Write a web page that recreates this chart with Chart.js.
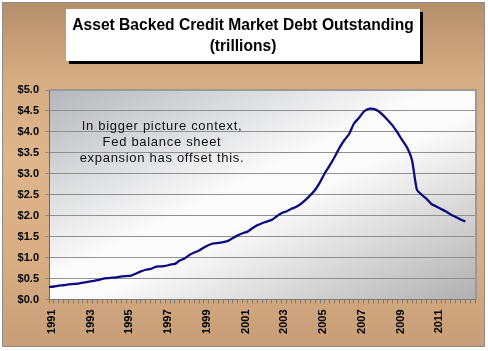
<!DOCTYPE html>
<html>
<head>
<meta charset="utf-8">
<script src="https://cdn.jsdelivr.net/npm/chart.js@4"></script>
<style>
  html, body { margin: 0; padding: 0; background: #ffffff; }
  #wrap { position: relative; width: 488px; height: 351px; overflow: hidden; }
  #frame {
    position: absolute; left: 2px; top: 2px; width: 481px; height: 343px;
    border: 1px solid #8c8c8c;
    background: linear-gradient(to bottom, #b58f6c 0%, #d6ac82 22%, #dfb58b 45%, #d8ad83 75%, #c79e78 100%);
  }
  #chart { position: absolute; left: 0; top: 0; }
  #title {
    position: absolute; left: 66px; top: 9px; width: 354px; height: 52px;
    background: #ffffff; box-shadow: 3px 3px 0 #000000;
    font-family: "Liberation Sans", Arial, sans-serif; font-weight: bold; font-size: 15.6px;
    line-height: 21px; text-align: center; color: #000; box-sizing: border-box; padding-top: 5px;
  }
  #note {
    position: absolute; left: 52px; top: 118px; width: 220px;
    font-family: "Liberation Sans", Arial, sans-serif; font-size: 13px; letter-spacing: 0.7px;
    line-height: 16px; text-align: center; color: #111;
  }
</style>
</head>
<body>
<div id="wrap">
  <div id="frame"></div>
  <canvas id="chart" width="488" height="351"></canvas>
  <div id="title">Asset Backed Credit Market Debt Outstanding<br>(trillions)</div>
  <div id="note">In bigger picture context,<br>Fed balance sheet<br>expansion has offset this.</div>
</div>
<script>
// Quarterly categories (1991 Q1 .. 2013 Q1; the axis runs past the data)
const quarterLabels = [
  '1991Q1','1991Q2','1991Q3','1991Q4','1992Q1','1992Q2','1992Q3','1992Q4',
  '1993Q1','1993Q2','1993Q3','1993Q4','1994Q1','1994Q2','1994Q3','1994Q4',
  '1995Q1','1995Q2','1995Q3','1995Q4','1996Q1','1996Q2','1996Q3','1996Q4',
  '1997Q1','1997Q2','1997Q3','1997Q4','1998Q1','1998Q2','1998Q3','1998Q4',
  '1999Q1','1999Q2','1999Q3','1999Q4','2000Q1','2000Q2','2000Q3','2000Q4',
  '2001Q1','2001Q2','2001Q3','2001Q4','2002Q1','2002Q2','2002Q3','2002Q4',
  '2003Q1','2003Q2','2003Q3','2003Q4','2004Q1','2004Q2','2004Q3','2004Q4',
  '2005Q1','2005Q2','2005Q3','2005Q4','2006Q1','2006Q2','2006Q3','2006Q4',
  '2007Q1','2007Q2','2007Q3','2007Q4','2008Q1','2008Q2','2008Q3','2008Q4',
  '2009Q1','2009Q2','2009Q3','2009Q4','2010Q1','2010Q2','2010Q3','2010Q4',
  '2011Q1','2011Q2','2011Q3','2011Q4','2012Q1','2012Q2','2012Q3','2012Q4',
  '2013Q1'
];

// Asset backed credit market debt outstanding, trillions of dollars
const debtOutstanding = [
  0.30, 0.31, 0.33, 0.34, 0.36, 0.37, 0.38, 0.40,
  0.42, 0.44, 0.46, 0.49, 0.51, 0.52, 0.53, 0.55,
  0.56, 0.57, 0.62, 0.67, 0.71, 0.73, 0.78, 0.79,
  0.80, 0.83, 0.85, 0.93, 0.98, 1.06, 1.12, 1.17,
  1.24, 1.30, 1.34, 1.35, 1.37, 1.40, 1.47, 1.53,
  1.58, 1.62, 1.70, 1.77, 1.82, 1.86, 1.90, 1.98,
  2.06, 2.10, 2.16, 2.21, 2.28, 2.38, 2.49, 2.62,
  2.80, 3.02, 3.20, 3.40, 3.62, 3.80, 3.95, 4.20,
  4.33, 4.48, 4.55, 4.55, 4.50, 4.40, 4.28, 4.15,
  3.98, 3.80, 3.62, 3.32, 2.62, 2.50, 2.40, 2.28,
  2.22, 2.16, 2.10, 2.03, 1.97, 1.91, 1.86
];

// Year labels shown on the x axis
const yearTickLabels = ['1991','1993','1995','1997','1999','2001','2003','2005','2007','2009','2011'];

const plotBackground = {
  id: 'plotBackground',
  beforeDraw(chart) {
    const { ctx, chartArea: a } = chart;
    const w = a.right - a.left, h = a.bottom - a.top;
    const cx = a.left + w / 2, cy = a.top + h / 2;
    const k = (w * h) / (w * w + h * h);
    const g = ctx.createLinearGradient(cx - h * k, cy - w * k, cx + h * k, cy + w * k);
    g.addColorStop(0, '#b4b6bb');
    g.addColorStop(0.45, '#fbfbfb');
    g.addColorStop(0.55, '#fbfbfb');
    g.addColorStop(1, '#b0b0b0');
    ctx.save();
    ctx.fillStyle = g;
    ctx.fillRect(a.left, a.top, w, h);
    ctx.restore();
  },
  afterDraw(chart) {
    const { ctx, chartArea: a } = chart;
    ctx.save();
    ctx.strokeStyle = '#9a9a9a';
    ctx.lineWidth = 2;
    ctx.beginPath();
    ctx.moveTo(a.left, a.top);
    ctx.lineTo(a.right + 1, a.top);
    ctx.lineTo(a.right + 1, a.bottom);
    ctx.stroke();
    ctx.restore();
  }
};

const tickFont = { family: '"Liberation Sans", Arial, sans-serif', size: 11, weight: 'bold' };

new Chart(document.getElementById('chart'), {
  type: 'line',
  data: {
    labels: quarterLabels,
    datasets: [{
      data: debtOutstanding,
      borderColor: '#0c0c80',
      borderWidth: 2.3,
      pointRadius: 0,
      tension: 0.2,
      fill: false
    }]
  },
  options: {
    responsive: false,
    animation: false,
    layout: { padding: { left: 0, right: 13, top: 90, bottom: 0 } },
    plugins: { legend: { display: false }, title: { display: false }, tooltip: { enabled: false } },
    scales: {
      x: {
        offset: false,
        afterFit(s) { s.height = 51.5; s.paddingLeft = 0; s.paddingRight = 0; },
        grid: { drawOnChartArea: false, drawTicks: true, tickLength: 4, color: '#7a7a7a' },
        border: { color: '#7a7a7a', width: 1 },
        ticks: {
          autoSkip: false, minRotation: 90, maxRotation: 90, padding: 6, labelOffset: 3,
          color: '#000', font: tickFont,
          callback(val) {
            const lab = this.getLabelForValue(val);
            const yr = lab.slice(0, 4);
            return (lab.endsWith('Q1') && yearTickLabels.includes(yr)) ? yr : '';
          }
        }
      },
      y: {
        min: 0, max: 5,
        afterFit(s) { s.width = 49; s.paddingTop = 0; s.paddingBottom = 0; },
        grid: { color: '#8f8f8f', lineWidth: 1, drawTicks: true, tickLength: 4 },
        border: { color: '#6a6a6a', width: 1 },
        ticks: {
          stepSize: 0.5, padding: 6, color: '#000', font: tickFont,
          callback(v) { return '$' + Number(v).toFixed(1); }
        }
      }
    }
  },
  plugins: [plotBackground]
});
</script>
</body>
</html>
